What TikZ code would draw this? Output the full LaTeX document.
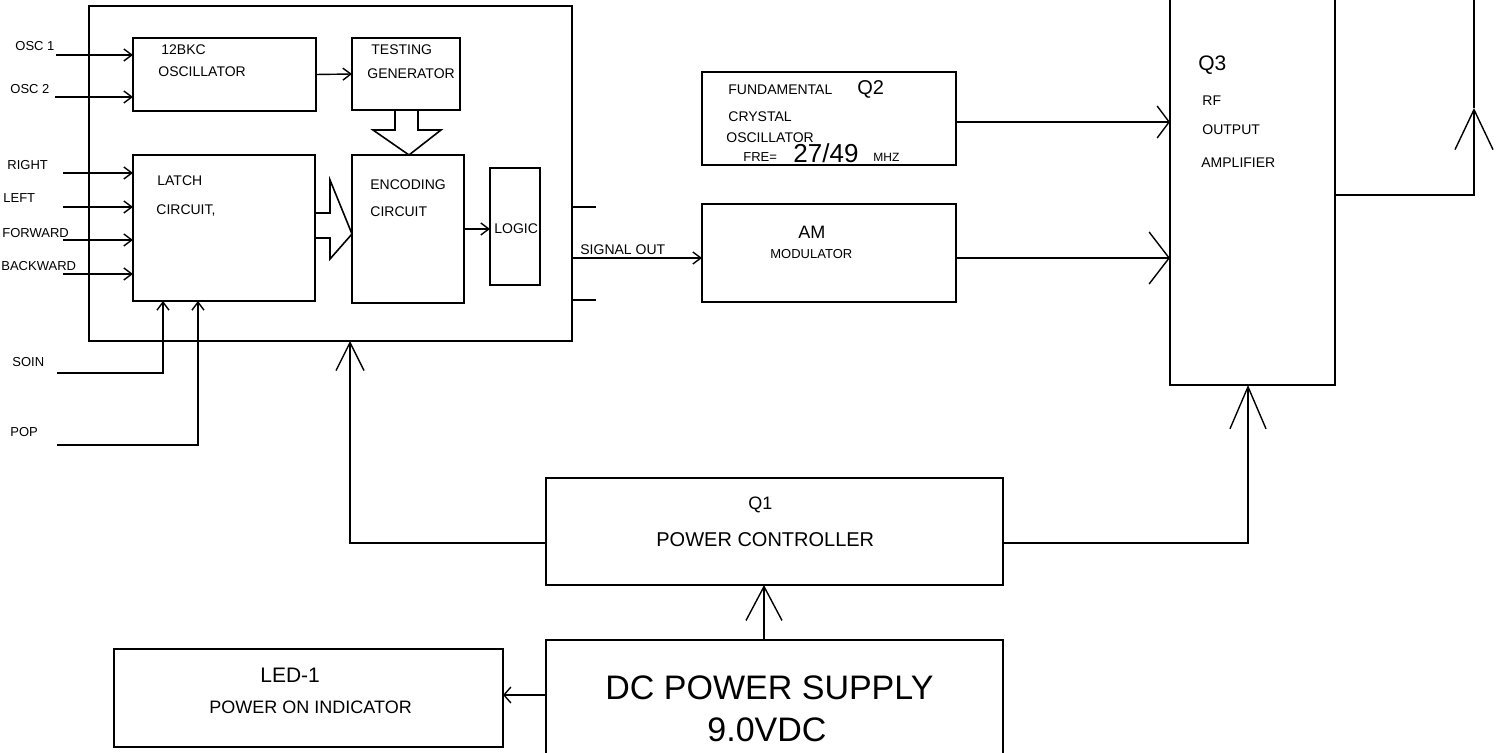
\documentclass[tikz,border=0pt]{standalone}
\usepackage{fontspec}
\setmainfont{Liberation Sans}
\usetikzlibrary{arrows.meta}

\tikzset{
    blok/.style 2 args={draw, line width=0.8pt, inner sep=0pt, outer sep=0pt,
        minimum width=#1*0.5pt, minimum height=#2*0.5pt},
    txt/.style={anchor=west, inner sep=0pt, font=\fontsize{7}{8}\selectfont},
    pfeil/.style={line width=0.7pt, -{Straight Barb[length=4pt, width=6pt]}},
    linie/.style={line width=0.7pt},
}

\begin{document}
\begin{tikzpicture}[x=0.5pt, y=-0.5pt]
    % рамка рисунка
    \path[use as bounding box, clip] (0,0) rectangle (1506,753);

    % блоки
    \node[blok={483}{335}] (main) at (330.5,173.5) {};
    \node[blok={183}{73}] (osc) at (224.5,74.5) {};
    \node[blok={108}{72}] (testgen) at (406,74) {};
    \node[blok={182}{146}] (latch) at (224,228) {};
    \node[blok={112}{148}] (enc) at (408,229) {};
    \node[blok={50}{117}] (logic) at (515,226.5) {};
    \node[blok={254}{93}] (q2) at (829,118.5) {};
    \node[blok={254}{98}] (am) at (829,253) {};
    \node[blok={165}{405}] (q3) at (1252.5,182.5) {};
    \node[blok={457}{107}] (q1) at (774.5,531.5) {};
    \node[blok={457}{130}] (dc) at (774.5,705) {};
    \node[blok={389}{98}] (led) at (308.5,698) {};

    % надписи в блоках
    \node[txt] (t12bkc) at (161,50) {12BKC};
    \node[txt] (toscill) at (158,72) {OSCILLATOR};
    \node[txt] (ttest) at (371,50) {TESTING};
    \node[txt] (tgen) at (367,74) {GENERATOR};
    \node[txt] (tlatch) at (157,181) {LATCH};
    \node[txt] (tlatchc) at (156,211) {CIRCUIT,};
    \node[txt] (tenc) at (370,185) {ENCODING};
    \node[txt] (tencc) at (370,212) {CIRCUIT};
    \node[txt] (tlogic) at (494,229) {LOGIC};
    \node[txt] (tfund) at (728,90) {FUNDAMENTAL};
    \node[txt, font=\fontsize{10}{12}\selectfont] (tq2) at (857,89) {Q2};
    \node[txt] (tcryst) at (728,117) {CRYSTAL};
    \node[txt] (tcrosc) at (726,138) {OSCILLATOR};
    \node[txt, font=\fontsize{6.5}{8}\selectfont] (tfre) at (743,157) {FRE=};
    \node[txt, font=\fontsize{13}{15}\selectfont] (tfreq) at (793,153) {27/49};
    \node[txt, font=\fontsize{6}{7}\selectfont] (tmhz) at (873,157) {MHZ};
    \node[txt, font=\fontsize{9}{11}\selectfont] (tam) at (798,232) {AM};
    \node[txt, font=\fontsize{6.5}{8}\selectfont] (tmod) at (770,254) {MODULATOR};
    \node[txt, font=\fontsize{10.5}{12}\selectfont] (tq3) at (1198,65) {Q3};
    \node[txt] (trf) at (1202,101) {RF};
    \node[txt] (tout) at (1202,130) {OUTPUT};
    \node[txt] (tampl) at (1201,163) {AMPLIFIER};
    \node[txt, font=\fontsize{9}{11}\selectfont] (tq1) at (748,505) {Q1};
    \node[txt, font=\fontsize{10}{12}\selectfont] (tpc) at (656,540) {POWER CONTROLLER};
    \node[txt, font=\fontsize{17}{20}\selectfont] (tdc) at (605,688) {DC POWER SUPPLY};
    \node[txt, font=\fontsize{17}{20}\selectfont] (tvdc) at (707,730) {9.0VDC};
    \node[txt, font=\fontsize{10.5}{12}\selectfont] (tled) at (260,675) {LED-1};
    \node[txt, font=\fontsize{9}{11}\selectfont] (tind) at (209,707) {POWER ON INDICATOR};

    % входы
    \node[txt, font=\fontsize{6.5}{8}\selectfont] (losc1) at (15,46) {OSC 1};
    \node[txt, font=\fontsize{6.5}{8}\selectfont] (losc2) at (10,89) {OSC 2};
    \node[txt, font=\fontsize{6.5}{8}\selectfont] (lright) at (7,165) {RIGHT};
    \node[txt, font=\fontsize{6.5}{8}\selectfont] (lleft) at (3,198) {LEFT};
    \node[txt, font=\fontsize{6.5}{8}\selectfont] (lfwd) at (2,233) {FORWARD};
    \node[txt, font=\fontsize{6.5}{8}\selectfont] (lback) at (1,266) {BACKWARD};
    \node[txt, font=\fontsize{6.5}{8}\selectfont] (lsoin) at (12,362) {SOIN};
    \node[txt, font=\fontsize{6.5}{8}\selectfont] (lpop) at (10,432) {POP};
    \node[txt] (lsig) at (580,250) {SIGNAL OUT};

    \coordinate (cosc1) at (56,55);
    \coordinate (cosc2) at (55,97);
    \coordinate (cright) at (63,173);
    \coordinate (cleft) at (63,207);
    \coordinate (cfwd) at (63,240);
    \coordinate (cback) at (63,274);
    \coordinate (csoin) at (57,373);
    \coordinate (cpop) at (57,445);
    \coordinate (csig) at (572,258);
    \coordinate (ant) at (1474,108);

    % стрелки
    \draw[pfeil] (cosc1) -- (osc.west |- cosc1);
    \draw[pfeil] (cosc2) -- (osc.west |- cosc2);
    \draw[pfeil] (cright) -- (latch.west |- cright);
    \draw[pfeil] (cleft) -- (latch.west |- cleft);
    \draw[pfeil] (cfwd) -- (latch.west |- cfwd);
    \draw[pfeil] (cback) -- (latch.west |- cback);
    \draw[pfeil] (csoin) -| (latch.south -| 163,0);
    \draw[pfeil] (cpop) -| (latch.south -| 198,0);
    \draw[pfeil] (osc.east) -- (testgen.west);
    \draw[pfeil] (enc.east) -- (logic.west |- enc.east);
    \draw[pfeil] (csig) -- (am.west |- csig);
    \draw[linie] (main.east |- 0,207) -- ++(24,0);
    \draw[linie] (main.east |- 0,300) -- ++(24,0);

    % широкие стрелки
    \draw[line width=0.8pt] (testgen.south -| 395,0) -- (395,130) -- (373,130)
        -- (enc.north -| 409,0) -- (441,130) -- (418,130) -- (testgen.south -| 418,0);
    \draw[line width=0.8pt] (latch.east |- 0,213) -- (330,213) -- (330,180)
        -- (enc.west |- 0,234) -- (330,259) -- (330,238) -- (latch.east |- 0,238);

    % выход на Q3
    \draw[linie, -{Straight Barb[length=6pt, width=16pt]}] (q2.east |- 0,122) -- (q3.west |- 0,122);
    \draw[linie, -{Straight Barb[length=10pt, width=26pt]}] (am.east |- csig) -- (q3.west |- csig);
    \draw[linie, -{Straight Barb[length=20pt, width=19pt]}] (q3.east |- 0,195) -| (ant);
    \draw[linie] (ant) -- (1474,0);

    % питание
    \draw[linie, -{Straight Barb[length=21pt, width=18pt]}] (q1.east |- 0,543) -| (q3.south -| 1248,0);
    \draw[linie, -{Straight Barb[length=14pt, width=14pt]}] (q1.west |- 0,543) -| (main.south -| 350,0);
    \draw[linie, -{Straight Barb[length=17pt, width=18pt]}] (dc.north -| 764,0) -- (q1.south -| 764,0);
    \draw[linie, -{Straight Barb[length=3.5pt, width=8pt]}] (dc.west |- 0,695) -- (led.east |- 0,695);
\end{tikzpicture}
\end{document}
